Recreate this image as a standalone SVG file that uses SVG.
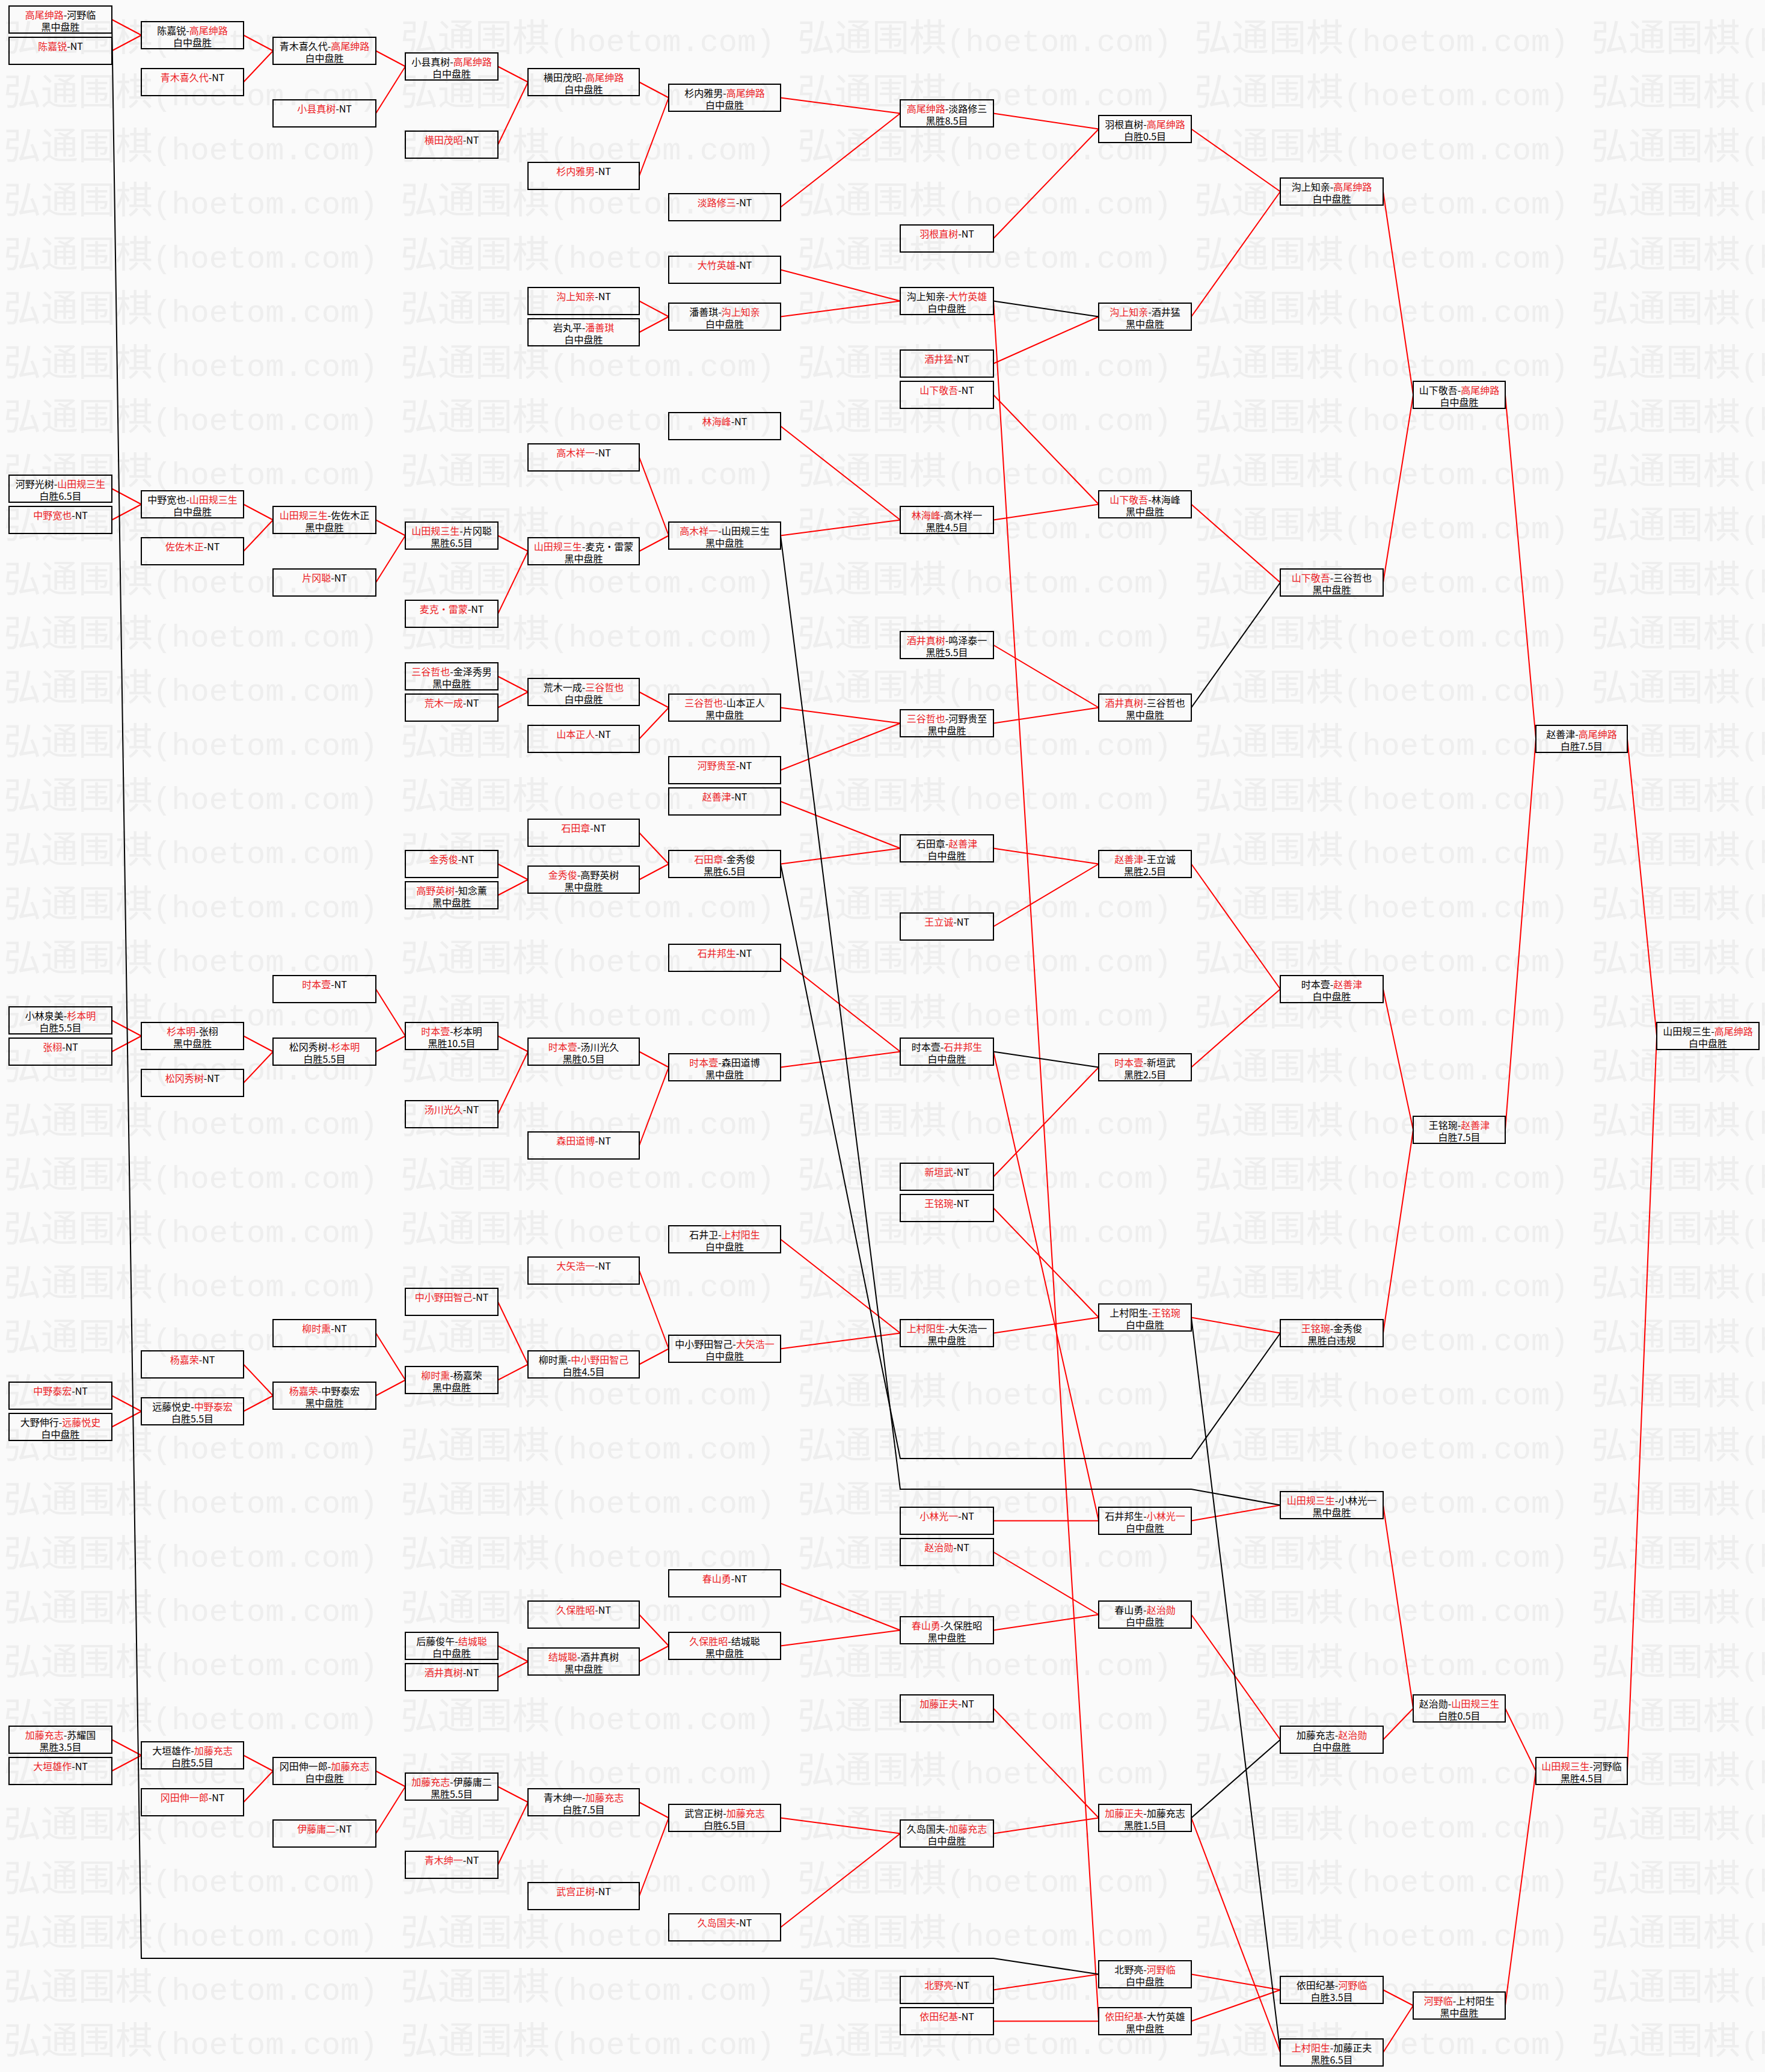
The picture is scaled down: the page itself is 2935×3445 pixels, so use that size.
<svg xmlns="http://www.w3.org/2000/svg" xmlns:xlink="http://www.w3.org/1999/xlink" width="2935" height="3445" viewBox="0 0 2935 3445">
<style>
.n rect{fill:none;stroke:#000;stroke-width:2}
.n text{font-family:"Noto Sans CJK SC","Noto Sans",sans-serif;font-size:16px;text-anchor:middle;fill:#000}
.n .r{fill:#ec1c24}
.wm{font-family:"Noto Sans CJK SC",sans-serif;font-size:62px;fill:#eeeeee}
.wm .lat{font-family:"Liberation Mono",monospace;font-size:52px}
#links path{fill:none;stroke-width:2}
#links .lr{stroke:#f00}
#links .lb{stroke:#000}
</style>
<defs>
<text id="wm" class="wm" x="0" y="0">弘通围棋<tspan class="lat">(hoetom.com)</tspan></text>
<g id="wmrow"><use xlink:href="#wm" x="6"/><use xlink:href="#wm" x="666"/><use xlink:href="#wm" x="1326"/><use xlink:href="#wm" x="1986"/><use xlink:href="#wm" x="2646"/></g>
</defs>
<rect width="2935" height="3445" fill="#fafafa"/>
<g id="watermark">
<use xlink:href="#wmrow" y="84.5"/><use xlink:href="#wmrow" y="174.5"/><use xlink:href="#wmrow" y="264.5"/><use xlink:href="#wmrow" y="354.5"/><use xlink:href="#wmrow" y="444.5"/><use xlink:href="#wmrow" y="534.5"/><use xlink:href="#wmrow" y="624.5"/><use xlink:href="#wmrow" y="714.5"/><use xlink:href="#wmrow" y="804.5"/><use xlink:href="#wmrow" y="894.5"/><use xlink:href="#wmrow" y="984.5"/><use xlink:href="#wmrow" y="1074.5"/><use xlink:href="#wmrow" y="1164.5"/><use xlink:href="#wmrow" y="1254.5"/><use xlink:href="#wmrow" y="1344.5"/><use xlink:href="#wmrow" y="1434.5"/><use xlink:href="#wmrow" y="1524.5"/><use xlink:href="#wmrow" y="1614.5"/><use xlink:href="#wmrow" y="1704.5"/><use xlink:href="#wmrow" y="1794.5"/><use xlink:href="#wmrow" y="1884.5"/><use xlink:href="#wmrow" y="1974.5"/><use xlink:href="#wmrow" y="2064.5"/><use xlink:href="#wmrow" y="2154.5"/><use xlink:href="#wmrow" y="2244.5"/><use xlink:href="#wmrow" y="2334.5"/><use xlink:href="#wmrow" y="2424.5"/><use xlink:href="#wmrow" y="2514.5"/><use xlink:href="#wmrow" y="2604.5"/><use xlink:href="#wmrow" y="2694.5"/><use xlink:href="#wmrow" y="2784.5"/><use xlink:href="#wmrow" y="2874.5"/><use xlink:href="#wmrow" y="2964.5"/><use xlink:href="#wmrow" y="3054.5"/><use xlink:href="#wmrow" y="3144.5"/><use xlink:href="#wmrow" y="3234.5"/><use xlink:href="#wmrow" y="3324.5"/><use xlink:href="#wmrow" y="3414.5"/>
</g>
<g id="links">
<path class="lr" d="M186 32.5L235 58.5M186 84.5L235 58.5M405 58.5L454 84.5M405 136.5L454 84.5M625 84.5L674 110.5M625 188.5L674 110.5M828 110.5L878 136.5M828 240.5L878 136.5M1063 136.5L1112 162.5M1063 292.5L1112 162.5M1298 162.5L1497 188.5M1298 344.5L1497 188.5M1652 188.5L1827 214.5M1652 396.5L1827 214.5M1981 214.5L2129 318.5M1981 526.5L2129 318.5"/>
<path class="lr" d="M1063 500.5L1112 526.5M1063 552.5L1112 526.5M1298 448.5L1497 500.5M1298 526.5L1497 500.5M1652 604.5L1827 526.5M1652 656.5L1827 838.5M1652 864.5L1827 838.5M1298 708.5L1497 864.5M1298 890.5L1497 864.5M1063 760.5L1112 890.5M1063 916.5L1112 890.5"/>
<path class="lr" d="M186 812.5L235 838.5M186 864.5L235 838.5M405 838.5L454 864.5M405 916.5L454 864.5M625 864.5L674 890.5M625 968.5L674 890.5M828 890.5L878 916.5M828 1020.5L878 916.5M1981 838.5L2129 968.5"/>
<path class="lr" d="M2300 318.5L2350 656.5M2300 968.5L2350 656.5M2503 656.5L2554 1228.5M2503 1878.5L2554 1228.5M2706 1228.5L2755 1722.5M2706 2944.5L2755 1722.5"/>
<path class="lr" d="M828 1124.5L878 1150.5M828 1176.5L878 1150.5M1063 1150.5L1112 1176.5M1063 1228.5L1112 1176.5M1298 1176.5L1497 1202.5M1298 1280.5L1497 1202.5M1652 1072.5L1827 1176.5M1652 1202.5L1827 1176.5"/>
<path class="lr" d="M1298 1332.5L1497 1410.5M1298 1436.5L1497 1410.5M1063 1384.5L1112 1436.5M1063 1462.5L1112 1436.5M828 1436.5L878 1462.5M828 1488.5L878 1462.5M1652 1410.5L1827 1436.5M1652 1540.5L1827 1436.5M1981 1436.5L2129 1644.5M1981 1774.5L2129 1644.5M2300 1644.5L2350 1878.5M2300 2216.5L2350 1878.5"/>
<path class="lr" d="M1298 1592.5L1497 1748.5M1298 1774.5L1497 1748.5M1063 1748.5L1112 1774.5M1063 1904.5L1112 1774.5M828 1722.5L878 1748.5M828 1852.5L878 1748.5M625 1644.5L674 1722.5M625 1748.5L674 1722.5M405 1722.5L454 1748.5M405 1800.5L454 1748.5M186 1696.5L235 1722.5M186 1748.5L235 1722.5M1652 1956.5L1827 1774.5"/>
<path class="lr" d="M1298 2060.5L1497 2216.5M1298 2242.5L1497 2216.5M1063 2112.5L1112 2242.5M1063 2268.5L1112 2242.5M828 2164.5L878 2268.5M828 2294.5L878 2268.5M625 2216.5L674 2294.5M625 2320.5L674 2294.5M405 2268.5L454 2320.5M405 2346.5L454 2320.5M186 2320.5L235 2346.5M186 2372.5L235 2346.5M1652 2008.5L1827 2190.5M1652 2216.5L1827 2190.5M1981 2190.5L2129 2216.5"/>
<path class="lr" d="M1652 2528.5L1827 2528.5M1981 2528.5L2129 2502.5M2300 2502.5L2350 2840.5M2300 2892.5L2350 2840.5M2503 2840.5L2554 2944.5M2503 3334.5L2554 2944.5M1652 2580.5L1827 2684.5M1652 2710.5L1827 2684.5M1298 2632.5L1497 2710.5M1298 2736.5L1497 2710.5M1063 2684.5L1112 2736.5M1063 2762.5L1112 2736.5M828 2736.5L878 2762.5M828 2788.5L878 2762.5M1981 2684.5L2129 2892.5"/>
<path class="lr" d="M1652 2840.5L1827 3022.5M1652 3048.5L1827 3022.5M1298 3022.5L1497 3048.5M1298 3204.5L1497 3048.5M1063 2996.5L1112 3022.5M1063 3152.5L1112 3022.5M828 2970.5L878 2996.5M828 3100.5L878 2996.5M625 2944.5L674 2970.5M625 3048.5L674 2970.5M405 2918.5L454 2944.5M405 2996.5L454 2944.5M186 2892.5L235 2918.5M186 2944.5L235 2918.5"/>
<path class="lr" d="M1652 3308.5L1827 3282.5M1652 3360.5L1827 3360.5M1981 3282.5L2129 3308.5M1981 3360.5L2129 3308.5M2300 3308.5L2350 3334.5M2300 3412.5L2350 3334.5"/>
<path class="lr" d="M1652 500.5L1827 3360.5M1652 1748.5L1827 2528.5M1981 3022.5L2129 3412.5"/>
<path class="lb" d="M1652 500.5L1827 526.5M1652 1748.5L1827 1774.5M1981 1176.5L2129 968.5M1981 2190.5L2129 3412.5M1981 3022.5L2129 2892.5"/>
<path class="lb" d="M186 32.5L235 3256L1652 3256L1827 3282.5"/>
<path class="lb" d="M1298 890.5L1497 2476L1981 2476L2129 2502.5"/>
<path class="lb" d="M1298 1436.5L1497 2425L1981 2425L2129 2216.5"/>
</g>
<g id="nodes">
<!-- col0 -->
<g id="c0_0" class="n" transform="translate(15,10)"><rect width="171" height="45"/><text x="85.5" y="21"><tspan class="r">高尾绅路</tspan>-河野临</text><text x="85.5" y="41">黑中盘胜</text></g>
<g id="c0_2" class="n" transform="translate(15,62)"><rect width="171" height="45"/><text x="85.5" y="21"><tspan class="r">陈嘉锐</tspan>-NT</text></g>
<g id="c0_30" class="n" transform="translate(15,790)"><rect width="171" height="45"/><text x="85.5" y="21">河野光树-<tspan class="r">山田规三生</tspan></text><text x="85.5" y="41">白胜6.5目</text></g>
<g id="c0_32" class="n" transform="translate(15,842)"><rect width="171" height="45"/><text x="85.5" y="21"><tspan class="r">中野宽也</tspan>-NT</text></g>
<g id="c0_64" class="n" transform="translate(15,1674)"><rect width="171" height="45"/><text x="85.5" y="21">小林泉美-<tspan class="r">杉本明</tspan></text><text x="85.5" y="41">白胜5.5目</text></g>
<g id="c0_66" class="n" transform="translate(15,1726)"><rect width="171" height="45"/><text x="85.5" y="21"><tspan class="r">张栩</tspan>-NT</text></g>
<g id="c0_88" class="n" transform="translate(15,2298)"><rect width="171" height="45"/><text x="85.5" y="21"><tspan class="r">中野泰宏</tspan>-NT</text></g>
<g id="c0_90" class="n" transform="translate(15,2350)"><rect width="171" height="45"/><text x="85.5" y="21">大野伸行-<tspan class="r">远藤悦史</tspan></text><text x="85.5" y="41">白中盘胜</text></g>
<g id="c0_110" class="n" transform="translate(15,2870)"><rect width="171" height="45"/><text x="85.5" y="21"><tspan class="r">加藤充志</tspan>-苏耀国</text><text x="85.5" y="41">黑胜3.5目</text></g>
<g id="c0_112" class="n" transform="translate(15,2922)"><rect width="171" height="45"/><text x="85.5" y="21"><tspan class="r">大垣雄作</tspan>-NT</text></g>
<!-- col1 -->
<g id="c1_1" class="n" transform="translate(235,36)"><rect width="170" height="45"/><text x="85" y="21">陈嘉锐-<tspan class="r">高尾绅路</tspan></text><text x="85" y="41">白中盘胜</text></g>
<g id="c1_4" class="n" transform="translate(235,114)"><rect width="170" height="45"/><text x="85" y="21"><tspan class="r">青木喜久代</tspan>-NT</text></g>
<g id="c1_31" class="n" transform="translate(235,816)"><rect width="170" height="45"/><text x="85" y="21">中野宽也-<tspan class="r">山田规三生</tspan></text><text x="85" y="41">白中盘胜</text></g>
<g id="c1_34" class="n" transform="translate(235,894)"><rect width="170" height="45"/><text x="85" y="21"><tspan class="r">佐佐木正</tspan>-NT</text></g>
<g id="c1_65" class="n" transform="translate(235,1700)"><rect width="170" height="45"/><text x="85" y="21"><tspan class="r">杉本明</tspan>-张栩</text><text x="85" y="41">黑中盘胜</text></g>
<g id="c1_68" class="n" transform="translate(235,1778)"><rect width="170" height="45"/><text x="85" y="21"><tspan class="r">松冈秀树</tspan>-NT</text></g>
<g id="c1_86" class="n" transform="translate(235,2246)"><rect width="170" height="45"/><text x="85" y="21"><tspan class="r">杨嘉荣</tspan>-NT</text></g>
<g id="c1_89" class="n" transform="translate(235,2324)"><rect width="170" height="45"/><text x="85" y="21">远藤悦史-<tspan class="r">中野泰宏</tspan></text><text x="85" y="41">白胜5.5目</text></g>
<g id="c1_111" class="n" transform="translate(235,2896)"><rect width="170" height="45"/><text x="85" y="21">大垣雄作-<tspan class="r">加藤充志</tspan></text><text x="85" y="41">白胜5.5目</text></g>
<g id="c1_114" class="n" transform="translate(235,2974)"><rect width="170" height="45"/><text x="85" y="21"><tspan class="r">冈田伸一郎</tspan>-NT</text></g>
<!-- col2 -->
<g id="c2_2" class="n" transform="translate(454,62)"><rect width="171" height="45"/><text x="85.5" y="21">青木喜久代-<tspan class="r">高尾绅路</tspan></text><text x="85.5" y="41">白中盘胜</text></g>
<g id="c2_6" class="n" transform="translate(454,166)"><rect width="171" height="45"/><text x="85.5" y="21"><tspan class="r">小县真树</tspan>-NT</text></g>
<g id="c2_32" class="n" transform="translate(454,842)"><rect width="171" height="45"/><text x="85.5" y="21"><tspan class="r">山田规三生</tspan>-佐佐木正</text><text x="85.5" y="41">黑中盘胜</text></g>
<g id="c2_36" class="n" transform="translate(454,946)"><rect width="171" height="45"/><text x="85.5" y="21"><tspan class="r">片冈聪</tspan>-NT</text></g>
<g id="c2_62" class="n" transform="translate(454,1622)"><rect width="171" height="45"/><text x="85.5" y="21"><tspan class="r">时本壹</tspan>-NT</text></g>
<g id="c2_66" class="n" transform="translate(454,1726)"><rect width="171" height="45"/><text x="85.5" y="21">松冈秀树-<tspan class="r">杉本明</tspan></text><text x="85.5" y="41">白胜5.5目</text></g>
<g id="c2_84" class="n" transform="translate(454,2194)"><rect width="171" height="45"/><text x="85.5" y="21"><tspan class="r">柳时熏</tspan>-NT</text></g>
<g id="c2_88" class="n" transform="translate(454,2298)"><rect width="171" height="45"/><text x="85.5" y="21"><tspan class="r">杨嘉荣</tspan>-中野泰宏</text><text x="85.5" y="41">黑中盘胜</text></g>
<g id="c2_112" class="n" transform="translate(454,2922)"><rect width="171" height="45"/><text x="85.5" y="21">冈田伸一郎-<tspan class="r">加藤充志</tspan></text><text x="85.5" y="41">白中盘胜</text></g>
<g id="c2_116" class="n" transform="translate(454,3026)"><rect width="171" height="45"/><text x="85.5" y="21"><tspan class="r">伊藤庸二</tspan>-NT</text></g>
<!-- col3 -->
<g id="c3_3" class="n" transform="translate(674,88)"><rect width="154" height="45"/><text x="77" y="21">小县真树-<tspan class="r">高尾绅路</tspan></text><text x="77" y="41">白中盘胜</text></g>
<g id="c3_8" class="n" transform="translate(674,218)"><rect width="154" height="45"/><text x="77" y="21"><tspan class="r">横田茂昭</tspan>-NT</text></g>
<g id="c3_33" class="n" transform="translate(674,868)"><rect width="154" height="45"/><text x="77" y="21"><tspan class="r">山田规三生</tspan>-片冈聪</text><text x="77" y="41">黑胜6.5目</text></g>
<g id="c3_38" class="n" transform="translate(674,998)"><rect width="154" height="45"/><text x="77" y="21"><tspan class="r">麦克・雷蒙</tspan>-NT</text></g>
<g id="c3_42" class="n" transform="translate(674,1102)"><rect width="154" height="45"/><text x="77" y="21"><tspan class="r">三谷哲也</tspan>-金泽秀男</text><text x="77" y="41">黑中盘胜</text></g>
<g id="c3_44" class="n" transform="translate(674,1154)"><rect width="154" height="45"/><text x="77" y="21"><tspan class="r">荒木一成</tspan>-NT</text></g>
<g id="c3_54" class="n" transform="translate(674,1414)"><rect width="154" height="45"/><text x="77" y="21"><tspan class="r">金秀俊</tspan>-NT</text></g>
<g id="c3_56" class="n" transform="translate(674,1466)"><rect width="154" height="45"/><text x="77" y="21"><tspan class="r">高野英树</tspan>-知念薰</text><text x="77" y="41">黑中盘胜</text></g>
<g id="c3_65" class="n" transform="translate(674,1700)"><rect width="154" height="45"/><text x="77" y="21"><tspan class="r">时本壹</tspan>-杉本明</text><text x="77" y="41">黑胜10.5目</text></g>
<g id="c3_70" class="n" transform="translate(674,1830)"><rect width="154" height="45"/><text x="77" y="21"><tspan class="r">汤川光久</tspan>-NT</text></g>
<g id="c3_82" class="n" transform="translate(674,2142)"><rect width="154" height="45"/><text x="77" y="21"><tspan class="r">中小野田智己</tspan>-NT</text></g>
<g id="c3_87" class="n" transform="translate(674,2272)"><rect width="154" height="45"/><text x="77" y="21"><tspan class="r">柳时熏</tspan>-杨嘉荣</text><text x="77" y="41">黑中盘胜</text></g>
<g id="c3_104" class="n" transform="translate(674,2714)"><rect width="154" height="45"/><text x="77" y="21">后藤俊午-<tspan class="r">结城聪</tspan></text><text x="77" y="41">白中盘胜</text></g>
<g id="c3_106" class="n" transform="translate(674,2766)"><rect width="154" height="45"/><text x="77" y="21"><tspan class="r">酒井真树</tspan>-NT</text></g>
<g id="c3_113" class="n" transform="translate(674,2948)"><rect width="154" height="45"/><text x="77" y="21"><tspan class="r">加藤充志</tspan>-伊藤庸二</text><text x="77" y="41">黑胜5.5目</text></g>
<g id="c3_118" class="n" transform="translate(674,3078)"><rect width="154" height="45"/><text x="77" y="21"><tspan class="r">青木绅一</tspan>-NT</text></g>
<!-- col4 -->
<g id="c4_4" class="n" transform="translate(878,114)"><rect width="185" height="45"/><text x="92.5" y="21">横田茂昭-<tspan class="r">高尾绅路</tspan></text><text x="92.5" y="41">白中盘胜</text></g>
<g id="c4_10" class="n" transform="translate(878,270)"><rect width="185" height="45"/><text x="92.5" y="21"><tspan class="r">杉内雅男</tspan>-NT</text></g>
<g id="c4_18" class="n" transform="translate(878,478)"><rect width="185" height="45"/><text x="92.5" y="21"><tspan class="r">沟上知亲</tspan>-NT</text></g>
<g id="c4_20" class="n" transform="translate(878,530)"><rect width="185" height="45"/><text x="92.5" y="21">岩丸平-<tspan class="r">潘善琪</tspan></text><text x="92.5" y="41">白中盘胜</text></g>
<g id="c4_28" class="n" transform="translate(878,738)"><rect width="185" height="45"/><text x="92.5" y="21"><tspan class="r">高木祥一</tspan>-NT</text></g>
<g id="c4_34" class="n" transform="translate(878,894)"><rect width="185" height="45"/><text x="92.5" y="21"><tspan class="r">山田规三生</tspan>-麦克・雷蒙</text><text x="92.5" y="41">黑中盘胜</text></g>
<g id="c4_43" class="n" transform="translate(878,1128)"><rect width="185" height="45"/><text x="92.5" y="21">荒木一成-<tspan class="r">三谷哲也</tspan></text><text x="92.5" y="41">白中盘胜</text></g>
<g id="c4_46" class="n" transform="translate(878,1206)"><rect width="185" height="45"/><text x="92.5" y="21"><tspan class="r">山本正人</tspan>-NT</text></g>
<g id="c4_52" class="n" transform="translate(878,1362)"><rect width="185" height="45"/><text x="92.5" y="21"><tspan class="r">石田章</tspan>-NT</text></g>
<g id="c4_55" class="n" transform="translate(878,1440)"><rect width="185" height="45"/><text x="92.5" y="21"><tspan class="r">金秀俊</tspan>-高野英树</text><text x="92.5" y="41">黑中盘胜</text></g>
<g id="c4_66" class="n" transform="translate(878,1726)"><rect width="185" height="45"/><text x="92.5" y="21"><tspan class="r">时本壹</tspan>-汤川光久</text><text x="92.5" y="41">黑胜0.5目</text></g>
<g id="c4_72" class="n" transform="translate(878,1882)"><rect width="185" height="45"/><text x="92.5" y="21"><tspan class="r">森田道博</tspan>-NT</text></g>
<g id="c4_80" class="n" transform="translate(878,2090)"><rect width="185" height="45"/><text x="92.5" y="21"><tspan class="r">大矢浩一</tspan>-NT</text></g>
<g id="c4_86" class="n" transform="translate(878,2246)"><rect width="185" height="45"/><text x="92.5" y="21">柳时熏-<tspan class="r">中小野田智己</tspan></text><text x="92.5" y="41">白胜4.5目</text></g>
<g id="c4_102" class="n" transform="translate(878,2662)"><rect width="185" height="45"/><text x="92.5" y="21"><tspan class="r">久保胜昭</tspan>-NT</text></g>
<g id="c4_105" class="n" transform="translate(878,2740)"><rect width="185" height="45"/><text x="92.5" y="21"><tspan class="r">结城聪</tspan>-酒井真树</text><text x="92.5" y="41">黑中盘胜</text></g>
<g id="c4_114" class="n" transform="translate(878,2974)"><rect width="185" height="45"/><text x="92.5" y="21">青木绅一-<tspan class="r">加藤充志</tspan></text><text x="92.5" y="41">白胜7.5目</text></g>
<g id="c4_120" class="n" transform="translate(878,3130)"><rect width="185" height="45"/><text x="92.5" y="21"><tspan class="r">武宫正树</tspan>-NT</text></g>
<!-- col5 -->
<g id="c5_5" class="n" transform="translate(1112,140)"><rect width="186" height="45"/><text x="93" y="21">杉内雅男-<tspan class="r">高尾绅路</tspan></text><text x="93" y="41">白中盘胜</text></g>
<g id="c5_12" class="n" transform="translate(1112,322)"><rect width="186" height="45"/><text x="93" y="21"><tspan class="r">淡路修三</tspan>-NT</text></g>
<g id="c5_16" class="n" transform="translate(1112,426)"><rect width="186" height="45"/><text x="93" y="21"><tspan class="r">大竹英雄</tspan>-NT</text></g>
<g id="c5_19" class="n" transform="translate(1112,504)"><rect width="186" height="45"/><text x="93" y="21">潘善琪-<tspan class="r">沟上知亲</tspan></text><text x="93" y="41">白中盘胜</text></g>
<g id="c5_26" class="n" transform="translate(1112,686)"><rect width="186" height="45"/><text x="93" y="21"><tspan class="r">林海峰</tspan>-NT</text></g>
<g id="c5_33" class="n" transform="translate(1112,868)"><rect width="186" height="45"/><text x="93" y="21"><tspan class="r">高木祥一</tspan>-山田规三生</text><text x="93" y="41">黑中盘胜</text></g>
<g id="c5_44" class="n" transform="translate(1112,1154)"><rect width="186" height="45"/><text x="93" y="21"><tspan class="r">三谷哲也</tspan>-山本正人</text><text x="93" y="41">黑中盘胜</text></g>
<g id="c5_48" class="n" transform="translate(1112,1258)"><rect width="186" height="45"/><text x="93" y="21"><tspan class="r">河野贵至</tspan>-NT</text></g>
<g id="c5_50" class="n" transform="translate(1112,1310)"><rect width="186" height="45"/><text x="93" y="21"><tspan class="r">赵善津</tspan>-NT</text></g>
<g id="c5_54" class="n" transform="translate(1112,1414)"><rect width="186" height="45"/><text x="93" y="21"><tspan class="r">石田章</tspan>-金秀俊</text><text x="93" y="41">黑胜6.5目</text></g>
<g id="c5_60" class="n" transform="translate(1112,1570)"><rect width="186" height="45"/><text x="93" y="21"><tspan class="r">石井邦生</tspan>-NT</text></g>
<g id="c5_67" class="n" transform="translate(1112,1752)"><rect width="186" height="45"/><text x="93" y="21"><tspan class="r">时本壹</tspan>-森田道博</text><text x="93" y="41">黑中盘胜</text></g>
<g id="c5_78" class="n" transform="translate(1112,2038)"><rect width="186" height="45"/><text x="93" y="21">石井卫-<tspan class="r">上村阳生</tspan></text><text x="93" y="41">白中盘胜</text></g>
<g id="c5_85" class="n" transform="translate(1112,2220)"><rect width="186" height="45"/><text x="93" y="21">中小野田智己-<tspan class="r">大矢浩一</tspan></text><text x="93" y="41">白中盘胜</text></g>
<g id="c5_100" class="n" transform="translate(1112,2610)"><rect width="186" height="45"/><text x="93" y="21"><tspan class="r">春山勇</tspan>-NT</text></g>
<g id="c5_104" class="n" transform="translate(1112,2714)"><rect width="186" height="45"/><text x="93" y="21"><tspan class="r">久保胜昭</tspan>-结城聪</text><text x="93" y="41">黑中盘胜</text></g>
<g id="c5_115" class="n" transform="translate(1112,3000)"><rect width="186" height="45"/><text x="93" y="21">武宫正树-<tspan class="r">加藤充志</tspan></text><text x="93" y="41">白胜6.5目</text></g>
<g id="c5_122" class="n" transform="translate(1112,3182)"><rect width="186" height="45"/><text x="93" y="21"><tspan class="r">久岛国夫</tspan>-NT</text></g>
<!-- col6 -->
<g id="c6_6" class="n" transform="translate(1497,166)"><rect width="155" height="45"/><text x="77.5" y="21"><tspan class="r">高尾绅路</tspan>-淡路修三</text><text x="77.5" y="41">黑胜8.5目</text></g>
<g id="c6_14" class="n" transform="translate(1497,374)"><rect width="155" height="45"/><text x="77.5" y="21"><tspan class="r">羽根直树</tspan>-NT</text></g>
<g id="c6_18" class="n" transform="translate(1497,478)"><rect width="155" height="45"/><text x="77.5" y="21">沟上知亲-<tspan class="r">大竹英雄</tspan></text><text x="77.5" y="41">白中盘胜</text></g>
<g id="c6_22" class="n" transform="translate(1497,582)"><rect width="155" height="45"/><text x="77.5" y="21"><tspan class="r">酒井猛</tspan>-NT</text></g>
<g id="c6_24" class="n" transform="translate(1497,634)"><rect width="155" height="45"/><text x="77.5" y="21"><tspan class="r">山下敬吾</tspan>-NT</text></g>
<g id="c6_32" class="n" transform="translate(1497,842)"><rect width="155" height="45"/><text x="77.5" y="21"><tspan class="r">林海峰</tspan>-高木祥一</text><text x="77.5" y="41">黑胜4.5目</text></g>
<g id="c6_40" class="n" transform="translate(1497,1050)"><rect width="155" height="45"/><text x="77.5" y="21"><tspan class="r">酒井真树</tspan>-鸣泽泰一</text><text x="77.5" y="41">黑胜5.5目</text></g>
<g id="c6_45" class="n" transform="translate(1497,1180)"><rect width="155" height="45"/><text x="77.5" y="21"><tspan class="r">三谷哲也</tspan>-河野贵至</text><text x="77.5" y="41">黑中盘胜</text></g>
<g id="c6_53" class="n" transform="translate(1497,1388)"><rect width="155" height="45"/><text x="77.5" y="21">石田章-<tspan class="r">赵善津</tspan></text><text x="77.5" y="41">白中盘胜</text></g>
<g id="c6_58" class="n" transform="translate(1497,1518)"><rect width="155" height="45"/><text x="77.5" y="21"><tspan class="r">王立诚</tspan>-NT</text></g>
<g id="c6_66" class="n" transform="translate(1497,1726)"><rect width="155" height="45"/><text x="77.5" y="21">时本壹-<tspan class="r">石井邦生</tspan></text><text x="77.5" y="41">白中盘胜</text></g>
<g id="c6_74" class="n" transform="translate(1497,1934)"><rect width="155" height="45"/><text x="77.5" y="21"><tspan class="r">新垣武</tspan>-NT</text></g>
<g id="c6_76" class="n" transform="translate(1497,1986)"><rect width="155" height="45"/><text x="77.5" y="21"><tspan class="r">王铭琬</tspan>-NT</text></g>
<g id="c6_84" class="n" transform="translate(1497,2194)"><rect width="155" height="45"/><text x="77.5" y="21"><tspan class="r">上村阳生</tspan>-大矢浩一</text><text x="77.5" y="41">黑中盘胜</text></g>
<g id="c6_96" class="n" transform="translate(1497,2506)"><rect width="155" height="45"/><text x="77.5" y="21"><tspan class="r">小林光一</tspan>-NT</text></g>
<g id="c6_98" class="n" transform="translate(1497,2558)"><rect width="155" height="45"/><text x="77.5" y="21"><tspan class="r">赵治勋</tspan>-NT</text></g>
<g id="c6_103" class="n" transform="translate(1497,2688)"><rect width="155" height="45"/><text x="77.5" y="21"><tspan class="r">春山勇</tspan>-久保胜昭</text><text x="77.5" y="41">黑中盘胜</text></g>
<g id="c6_108" class="n" transform="translate(1497,2818)"><rect width="155" height="45"/><text x="77.5" y="21"><tspan class="r">加藤正夫</tspan>-NT</text></g>
<g id="c6_116" class="n" transform="translate(1497,3026)"><rect width="155" height="45"/><text x="77.5" y="21">久岛国夫-<tspan class="r">加藤充志</tspan></text><text x="77.5" y="41">白中盘胜</text></g>
<g id="c6_126" class="n" transform="translate(1497,3286)"><rect width="155" height="45"/><text x="77.5" y="21"><tspan class="r">北野亮</tspan>-NT</text></g>
<g id="c6_128" class="n" transform="translate(1497,3338)"><rect width="155" height="45"/><text x="77.5" y="21"><tspan class="r">依田纪基</tspan>-NT</text></g>
<!-- col7 -->
<g id="c7_7" class="n" transform="translate(1827,192)"><rect width="154" height="45"/><text x="77" y="21">羽根直树-<tspan class="r">高尾绅路</tspan></text><text x="77" y="41">白胜0.5目</text></g>
<g id="c7_19" class="n" transform="translate(1827,504)"><rect width="154" height="45"/><text x="77" y="21"><tspan class="r">沟上知亲</tspan>-酒井猛</text><text x="77" y="41">黑中盘胜</text></g>
<g id="c7_31" class="n" transform="translate(1827,816)"><rect width="154" height="45"/><text x="77" y="21"><tspan class="r">山下敬吾</tspan>-林海峰</text><text x="77" y="41">黑中盘胜</text></g>
<g id="c7_44" class="n" transform="translate(1827,1154)"><rect width="154" height="45"/><text x="77" y="21"><tspan class="r">酒井真树</tspan>-三谷哲也</text><text x="77" y="41">黑中盘胜</text></g>
<g id="c7_54" class="n" transform="translate(1827,1414)"><rect width="154" height="45"/><text x="77" y="21"><tspan class="r">赵善津</tspan>-王立诚</text><text x="77" y="41">黑胜2.5目</text></g>
<g id="c7_67" class="n" transform="translate(1827,1752)"><rect width="154" height="45"/><text x="77" y="21"><tspan class="r">时本壹</tspan>-新垣武</text><text x="77" y="41">黑胜2.5目</text></g>
<g id="c7_83" class="n" transform="translate(1827,2168)"><rect width="154" height="45"/><text x="77" y="21">上村阳生-<tspan class="r">王铭琬</tspan></text><text x="77" y="41">白中盘胜</text></g>
<g id="c7_96" class="n" transform="translate(1827,2506)"><rect width="154" height="45"/><text x="77" y="21">石井邦生-<tspan class="r">小林光一</tspan></text><text x="77" y="41">白中盘胜</text></g>
<g id="c7_102" class="n" transform="translate(1827,2662)"><rect width="154" height="45"/><text x="77" y="21">春山勇-<tspan class="r">赵治勋</tspan></text><text x="77" y="41">白中盘胜</text></g>
<g id="c7_115" class="n" transform="translate(1827,3000)"><rect width="154" height="45"/><text x="77" y="21"><tspan class="r">加藤正夫</tspan>-加藤充志</text><text x="77" y="41">黑胜1.5目</text></g>
<g id="c7_125" class="n" transform="translate(1827,3260)"><rect width="154" height="45"/><text x="77" y="21">北野亮-<tspan class="r">河野临</tspan></text><text x="77" y="41">白中盘胜</text></g>
<g id="c7_128" class="n" transform="translate(1827,3338)"><rect width="154" height="45"/><text x="77" y="21"><tspan class="r">依田纪基</tspan>-大竹英雄</text><text x="77" y="41">黑中盘胜</text></g>
<!-- col8 -->
<g id="c8_11" class="n" transform="translate(2129,296)"><rect width="171" height="45"/><text x="85.5" y="21">沟上知亲-<tspan class="r">高尾绅路</tspan></text><text x="85.5" y="41">白中盘胜</text></g>
<g id="c8_36" class="n" transform="translate(2129,946)"><rect width="171" height="45"/><text x="85.5" y="21"><tspan class="r">山下敬吾</tspan>-三谷哲也</text><text x="85.5" y="41">黑中盘胜</text></g>
<g id="c8_62" class="n" transform="translate(2129,1622)"><rect width="171" height="45"/><text x="85.5" y="21">时本壹-<tspan class="r">赵善津</tspan></text><text x="85.5" y="41">白中盘胜</text></g>
<g id="c8_84" class="n" transform="translate(2129,2194)"><rect width="171" height="45"/><text x="85.5" y="21"><tspan class="r">王铭琬</tspan>-金秀俊</text><text x="85.5" y="41">黑胜白违规</text></g>
<g id="c8_95" class="n" transform="translate(2129,2480)"><rect width="171" height="45"/><text x="85.5" y="21"><tspan class="r">山田规三生</tspan>-小林光一</text><text x="85.5" y="41">黑中盘胜</text></g>
<g id="c8_110" class="n" transform="translate(2129,2870)"><rect width="171" height="45"/><text x="85.5" y="21">加藤充志-<tspan class="r">赵治勋</tspan></text><text x="85.5" y="41">白中盘胜</text></g>
<g id="c8_126" class="n" transform="translate(2129,3286)"><rect width="171" height="45"/><text x="85.5" y="21">依田纪基-<tspan class="r">河野临</tspan></text><text x="85.5" y="41">白胜3.5目</text></g>
<g id="c8_130" class="n" transform="translate(2129,3390)"><rect width="171" height="45"/><text x="85.5" y="21"><tspan class="r">上村阳生</tspan>-加藤正夫</text><text x="85.5" y="41">黑胜6.5目</text></g>
<!-- col9 -->
<g id="c9_24" class="n" transform="translate(2350,634)"><rect width="153" height="45"/><text x="76.5" y="21">山下敬吾-<tspan class="r">高尾绅路</tspan></text><text x="76.5" y="41">白中盘胜</text></g>
<g id="c9_71" class="n" transform="translate(2350,1856)"><rect width="153" height="45"/><text x="76.5" y="21">王铭琬-<tspan class="r">赵善津</tspan></text><text x="76.5" y="41">白胜7.5目</text></g>
<g id="c9_108" class="n" transform="translate(2350,2818)"><rect width="153" height="45"/><text x="76.5" y="21">赵治勋-<tspan class="r">山田规三生</tspan></text><text x="76.5" y="41">白胜0.5目</text></g>
<g id="c9_127" class="n" transform="translate(2350,3312)"><rect width="153" height="45"/><text x="76.5" y="21"><tspan class="r">河野临</tspan>-上村阳生</text><text x="76.5" y="41">黑中盘胜</text></g>
<!-- col10 -->
<g id="c10_46" class="n" transform="translate(2554,1206)"><rect width="152" height="45"/><text x="76" y="21">赵善津-<tspan class="r">高尾绅路</tspan></text><text x="76" y="41">白胜7.5目</text></g>
<g id="c10_112" class="n" transform="translate(2554,2922)"><rect width="152" height="45"/><text x="76" y="21"><tspan class="r">山田规三生</tspan>-河野临</text><text x="76" y="41">黑胜4.5目</text></g>
<!-- col11 -->
<g id="c11_65" class="n" transform="translate(2755,1700)"><rect width="170" height="45"/><text x="85" y="21">山田规三生-<tspan class="r">高尾绅路</tspan></text><text x="85" y="41">白中盘胜</text></g>
</g>
</svg>
